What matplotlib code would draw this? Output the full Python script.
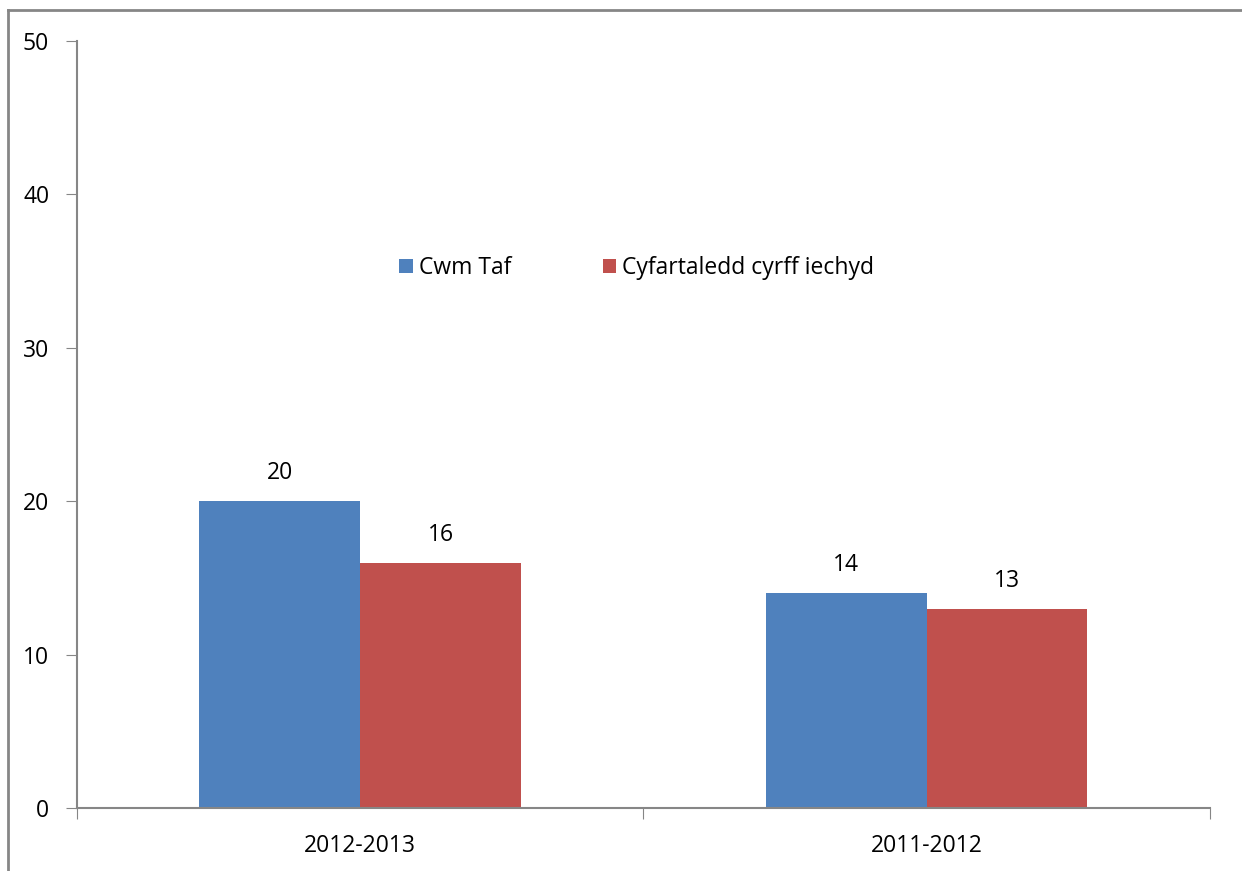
import matplotlib.pyplot as plt
from matplotlib.lines import Line2D
import numpy as np

plt.rcParams['font.family'] = ['Open Sans', 'DejaVu Sans']

periods = ["2012-2013", "2011-2012"]
cwm_taf = [20, 14]
cyfartaledd = [16, 13]
series_names = ["Cwm Taf", "Cyfartaledd cyrff iechyd"]
colors = ["#4F81BD", "#C0504D"]
yticks = [0, 10, 20, 30, 40, 50]

fs = 16.5

fig = plt.figure(figsize=(12.42, 8.71), dpi=100)
ax = fig.add_axes([0.062, 0.0724, 0.912, 0.8805])

x = np.arange(len(periods))
w = 0.284
b1 = ax.bar(x - w / 2, cwm_taf, w, color=colors[0], label=series_names[0])
b2 = ax.bar(x + w / 2, cyfartaledd, w, color=colors[1], label=series_names[1])

for bars, vals in [(b1, cwm_taf), (b2, cyfartaledd)]:
    for r, v in zip(bars, vals):
        ax.annotate(str(v), (r.get_x() + r.get_width() / 2, v), xytext=(0, 20),
                    textcoords="offset points", ha="center", va="center", fontsize=fs)

ax.set_xlim(-0.5, 1.5)
ax.set_ylim(0, 50)
ax.set_yticks(yticks)
ax.set_yticklabels([str(t) for t in yticks], fontsize=fs)
ax.set_xticks([-0.5, 0.5, 1.5], minor=False)
ax.set_xticklabels([])
ax.set_xticks(x, minor=True)
ax.set_xticklabels(periods, minor=True, fontsize=fs)
ax.tick_params(axis='x', which='minor', length=0, pad=19)
ax.tick_params(axis='x', which='major', length=8, color="#868686", direction="out")
ax.tick_params(axis='y', length=8, color="#868686", direction="out", pad=12)

for s in ["top", "right"]:
    ax.spines[s].set_visible(False)
for s in ["left", "bottom"]:
    ax.spines[s].set_color("#868686")
    ax.spines[s].set_linewidth(1.5)

ax.legend(loc="center", bbox_to_anchor=(0.494, 0.704), ncol=2, frameon=False,
          fontsize=fs, handlelength=0.6, handleheight=0.6, handletextpad=0.25,
          columnspacing=4.0)

# chart frame, top and left edges only
fig.add_artist(Line2D([8 / 1242, 1], [1 - 10 / 871] * 2, color="#868686", lw=2,
                      transform=fig.transFigure))
fig.add_artist(Line2D([8 / 1242] * 2, [0, 1 - 10 / 871], color="#868686", lw=2,
                      transform=fig.transFigure))

fig.savefig("out.png", dpi=100)
